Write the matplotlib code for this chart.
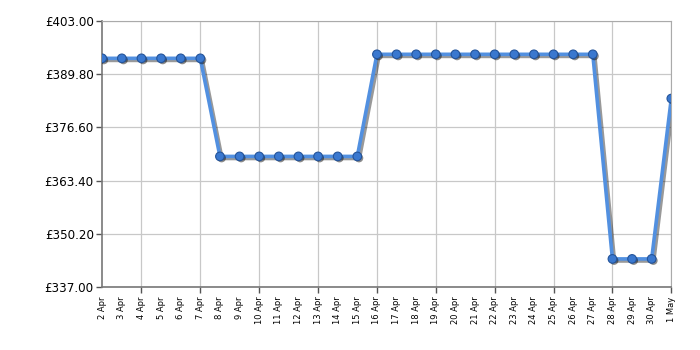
import matplotlib
matplotlib.use("Agg")
import matplotlib.pyplot as plt
import matplotlib.patheffects as pe

dates = ["2 Apr", "3 Apr", "4 Apr", "5 Apr", "6 Apr", "7 Apr", "8 Apr", "9 Apr",
         "10 Apr", "11 Apr", "12 Apr", "13 Apr", "14 Apr", "15 Apr", "16 Apr",
         "17 Apr", "18 Apr", "19 Apr", "20 Apr", "21 Apr", "22 Apr", "23 Apr",
         "24 Apr", "25 Apr", "26 Apr", "27 Apr", "28 Apr", "29 Apr", "30 Apr", "1 May"]
prices = [393.8] * 6 + [369.4] * 8 + [394.8] * 12 + [343.9] * 3 + [383.8]
yticks = [337.00, 350.20, 363.40, 376.60, 389.80, 403.00]

fig = plt.figure(figsize=(7, 3.5), dpi=100)
ax = fig.add_axes([0.146, 0.181, 0.813, 0.758])

x = list(range(len(dates)))
line_shadow = [pe.SimpleLineShadow(offset=(1.5, -1.5), shadow_color="black", alpha=0.4), pe.Normal()]
marker_shadow = [pe.SimplePatchShadow(offset=(1.2, -1.2), shadow_rgbFace="black", alpha=0.45), pe.Normal()]
ax.plot(x, prices, color="#5290e0", lw=2.6, zorder=3, path_effects=line_shadow)
ax.plot(x, prices, ls="none", marker="o", ms=6.2,
        markerfacecolor="#3a78cf", markeredgecolor="#24549a", markeredgewidth=0.8,
        zorder=4, path_effects=marker_shadow)

ax.set_xlim(0, len(dates) - 1)
ax.set_ylim(337, 403)
ax.set_yticks(yticks)
ax.set_yticklabels([f"£{v:.2f}" for v in yticks], fontsize=8.6, family="DejaVu Sans")

ax.xaxis.remove_overlapping_locs = False
ax.set_xticks(x)
ax.set_xticklabels(dates, rotation=90, fontsize=6.0, family="DejaVu Sans")
major = [i for i in x if (i - 2) % 3 == 0]
ax.set_xticks(major, minor=True)
ax.tick_params(axis="x", which="major", length=0, pad=7)
ax.tick_params(axis="x", which="minor", length=4, width=1, color="#555555")
ax.tick_params(axis="y", length=4, width=1, color="#555555", pad=2)

ax.grid(True, axis="x", which="minor", color="#c8c8c8", lw=0.9)
ax.grid(True, axis="y", which="major", color="#c8c8c8", lw=0.9)
ax.set_axisbelow(True)
for s in ["top", "right"]:
    ax.spines[s].set_color("#aaaaaa")
for s in ["left", "bottom"]:
    ax.spines[s].set_color("#777777")
    ax.spines[s].set_linewidth(1.2)

fig.savefig("out.png", dpi=100)
